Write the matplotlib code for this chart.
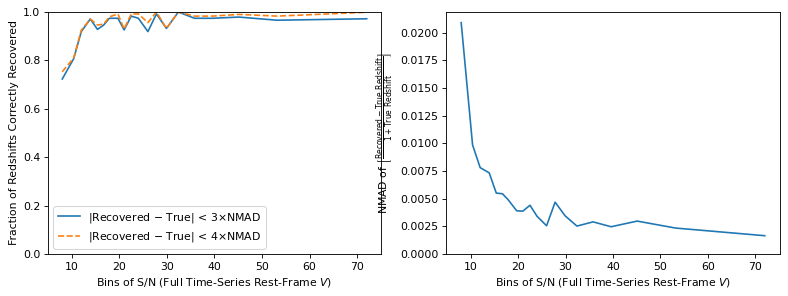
import matplotlib
matplotlib.use('Agg')
import matplotlib.pyplot as plt
import numpy as np
from matplotlib.ticker import MultipleLocator, FormatStrFormatter

# bin centres of S/N
sn_bins = np.array([8.0, 10.4, 12.0, 13.9, 15.4, 16.7, 17.9, 19.7, 21.0, 22.5,
                    24.0, 26.0, 27.8, 29.9, 32.4, 35.8, 39.6, 45.1, 53.2, 72.0])

# fraction recovered within 3x / 4x NMAD
frac_3nmad = np.array([0.723, 0.807, 0.919, 0.971, 0.928, 0.946, 0.974, 0.974, 0.926, 0.983,
                       0.974, 0.919, 0.992, 0.932, 1.000, 0.974, 0.974, 0.979, 0.966, 0.972])
frac_4nmad = np.array([0.753, 0.810, 0.925, 0.971, 0.946, 0.950, 0.980, 0.992, 0.930, 0.992,
                       0.992, 0.956, 1.000, 0.932, 1.000, 0.983, 0.983, 0.990, 0.983, 0.999])

# NMAD per bin
nmad = np.array([0.0209, 0.00985, 0.0078, 0.00733, 0.0055, 0.00544, 0.0049, 0.0039, 0.00387, 0.0044,
                 0.0034, 0.00255, 0.00468, 0.00345, 0.00252, 0.0029, 0.00246, 0.00297, 0.00234, 0.00165])

xlabel = r'Bins of S/N (Full Time-Series Rest-Frame $V$)'

dpi = 78.5
fig = plt.figure(figsize=(788 / dpi, 296 / dpi), dpi=dpi, facecolor="w")
ax1 = fig.add_axes([0.0609, 0.142, 0.4226, 0.8175])
ax2 = fig.add_axes([0.566, 0.142, 0.4238, 0.8175])

ax1.plot(sn_bins, frac_3nmad, label=r'|Recovered $-$ True| < 3$\times$NMAD')
ax1.plot(sn_bins, frac_4nmad, '--', label=r'|Recovered $-$ True| < 4$\times$NMAD')
ax1.set_xlim(5, 75)
ax1.set_ylim(0, 1.0)
ax1.set_xlabel(xlabel)
ax1.set_ylabel('Fraction of Redshifts Correctly Recovered')
ax1.legend(loc='lower left')

ax2.plot(sn_bins, nmad)
ax2.set_ylim(bottom=0)
ax2.yaxis.set_major_locator(MultipleLocator(0.0025))
ax2.yaxis.set_major_formatter(FormatStrFormatter('%.4f'))
ax2.set_xlabel(xlabel)
ax2.set_ylabel(r'NMAD of $\left[\frac{\mathrm{Recovered - True\ Redshift}}{\mathrm{1 + True\ Redshift}}\right]$')

plt.savefig('out.png', dpi=dpi)
